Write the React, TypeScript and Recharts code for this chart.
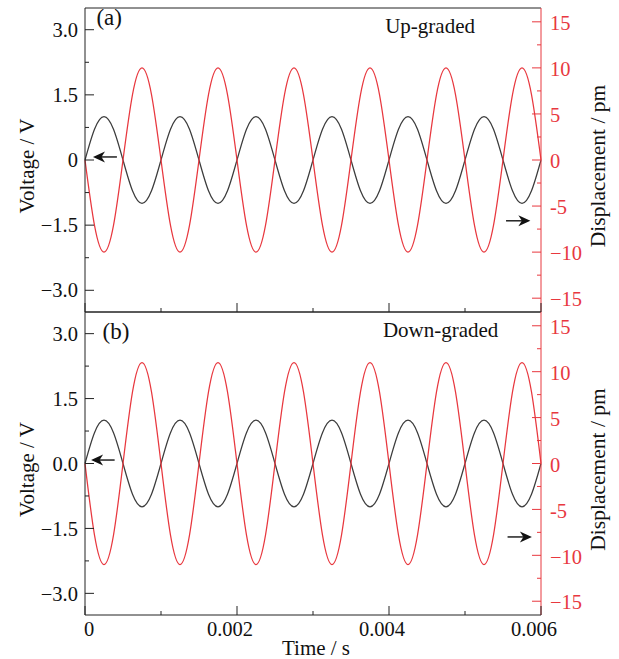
import React from 'react';
import { LineChart, Line, XAxis, YAxis, ReferenceLine, ReferenceDot, Label } from 'recharts';

// time base, 8 samples per 1 ms period
const time = [
  0, 0.000125, 0.00025, 0.000375, 0.0005, 0.000625, 0.00075, 0.000875,
  0.001, 0.001125, 0.00125, 0.001375, 0.0015, 0.001625, 0.00175, 0.001875,
  0.002, 0.002125, 0.00225, 0.002375, 0.0025, 0.002625, 0.00275, 0.002875,
  0.003, 0.003125, 0.00325, 0.003375, 0.0035, 0.003625, 0.00375, 0.003875,
  0.004, 0.004125, 0.00425, 0.004375, 0.0045, 0.004625, 0.00475, 0.004875,
  0.005, 0.005125, 0.00525, 0.005375, 0.0055, 0.005625, 0.00575, 0.005875,
  0.006,
];

const voltage = [
  0, 0.71, 1, 0.71, 0, -0.71, -1, -0.71,
  0, 0.71, 1, 0.71, 0, -0.71, -1, -0.71,
  0, 0.71, 1, 0.71, 0, -0.71, -1, -0.71,
  0, 0.71, 1, 0.71, 0, -0.71, -1, -0.71,
  0, 0.71, 1, 0.71, 0, -0.71, -1, -0.71,
  0, 0.71, 1, 0.71, 0, -0.71, -1, -0.71,
  0,
];

const dispUp = [
  0, -7.1, -10, -7.1, 0, 7.1, 10, 7.1,
  0, -7.1, -10, -7.1, 0, 7.1, 10, 7.1,
  0, -7.1, -10, -7.1, 0, 7.1, 10, 7.1,
  0, -7.1, -10, -7.1, 0, 7.1, 10, 7.1,
  0, -7.1, -10, -7.1, 0, 7.1, 10, 7.1,
  0, -7.1, -10, -7.1, 0, 7.1, 10, 7.1,
  0,
];

const dispDown = [
  0, -7.8, -11, -7.8, 0, 7.8, 11, 7.8,
  0, -7.8, -11, -7.8, 0, 7.8, 11, 7.8,
  0, -7.8, -11, -7.8, 0, 7.8, 11, 7.8,
  0, -7.8, -11, -7.8, 0, 7.8, 11, 7.8,
  0, -7.8, -11, -7.8, 0, 7.8, 11, 7.8,
  0, -7.8, -11, -7.8, 0, 7.8, 11, 7.8,
  0,
];

const timeTicks = [0, 0.001, 0.002, 0.003, 0.004, 0.005, 0.006];
const timeMajor = [0, 0.002, 0.004, 0.006];
const timeLabels = ['0', '0.002', '0.004', '0.006'];

const voltTicks = [-3, -2.25, -1.5, -0.75, 0, 0.75, 1.5, 2.25, 3];
const voltMajor = [-3, -1.5, 0, 1.5, 3];
const voltLabelsA = ['\u22123.0', '\u22121.5', '0', '1.5', '3.0'];
const voltLabelsB = ['\u22123.0', '\u22121.5', '0.0', '1.5', '3.0'];

const dispTicks = [-15, -12.5, -10, -7.5, -5, -2.5, 0, 2.5, 5, 7.5, 10, 12.5, 15];
const dispMajor = [-15, -10, -5, 0, 5, 10, 15];
const dispLabels = ['\u221215', '\u221210', '-5', '0', '5', '10', '15'];

const rows = time.map((t, i) => ({ t, v: voltage[i], up: dispUp[i], down: dispDown[i] }));

const FONT = '"Liberation Serif", "Times New Roman", serif';
const RED = '#e8383f';
const INK = '#222';
const txtStyle = { fontFamily: FONT };

const findLabel = (v: number, major: number[], labels: string[]) => {
  const i = major.findIndex((m) => Math.abs(m - v) < 1e-9);
  return i < 0 ? null : labels[i];
};

const leftTick = (labels: string[]) => (p: any) => {
  const { x, y, payload } = p;
  const lab = findLabel(payload.value, voltMajor, labels);
  return (
    <g>
      <line x1={x} x2={x + (lab ? 9 : 4)} y1={y} y2={y} stroke={INK} />
      {lab && (
        <text x={x - 7} y={y} dy="0.35em" textAnchor="end" fontSize={20.5} style={txtStyle} fill="#111">
          {lab}
        </text>
      )}
    </g>
  );
};

const rightTick = (p: any) => {
  const { x, y, payload } = p;
  const lab = findLabel(payload.value, dispMajor, dispLabels);
  return (
    <g>
      <line x1={x} x2={x - (lab ? 9 : 4)} y1={y} y2={y} stroke={RED} />
      {lab && (
        <text x={x + 9} y={y} dy="0.4em" textAnchor="start" fontSize={20.5} style={txtStyle} fill={RED}>
          {lab}
        </text>
      )}
    </g>
  );
};

const bottomTick = (showLabels: boolean) => (p: any) => {
  const { x, y, payload } = p;
  const lab = findLabel(payload.value, timeMajor, timeLabels);
  return (
    <g>
      <line x1={x} x2={x} y1={y} y2={y - (lab ? 9 : 4)} stroke={INK} />
      {showLabels && lab && (
        <text x={lab === '0' ? x + 4 : x - 7} y={y + 21} textAnchor="middle" fontSize={20.5} style={txtStyle} fill="#111">
          {lab}
        </text>
      )}
    </g>
  );
};

const arrowShape = (p: any) => {
  const { x1, y1, x2, y2 } = p;
  const dir = x2 > x1 ? 1 : -1;
  const hx = x2 - dir * 12;
  return (
    <g>
      <line x1={x1} y1={y1} x2={hx + dir * 4} y2={y2} stroke="#111" strokeWidth={1.4} />
      <polygon points={`${x2},${y2} ${hx},${y2 - 5.5} ${hx + dir * 3.5},${y2} ${hx},${y2 + 5.5}`} fill="#111" />
    </g>
  );
};

const textShape = (txt: string, size: number) => (p: any) => (
  <text x={p.cx} y={p.cy} fontSize={size} style={txtStyle} fill="#111">
    {txt}
  </text>
);

const leftTitle = (props: any) => {
  const vb = props.viewBox;
  const cx = vb.x + 27;
  const cy = vb.y + vb.height / 2 + 6;
  return (
    <text x={cx} y={cy} transform={`rotate(-90 ${cx} ${cy})`} textAnchor="middle" dominantBaseline="central" fontSize={21} style={txtStyle} fill="#111">
      Voltage / V
    </text>
  );
};

const rightTitle = (props: any) => {
  const vb = props.viewBox;
  const cx = vb.x + 57;
  const cy = vb.y + vb.height / 2 + 6;
  return (
    <text x={cx} y={cy} transform={`rotate(-90 ${cx} ${cy})`} textAnchor="middle" dominantBaseline="central" fontSize={21.5} style={txtStyle} fill="#111">
      Displacement / pm
    </text>
  );
};

const timeTitle = (props: any) => {
  const vb = props.viewBox;
  return (
    <text x={vb.x + vb.width / 2 + 3} y={vb.y + 40} textAnchor="middle" fontSize={21} style={txtStyle} fill="#111">
      Time / s
    </text>
  );
};

interface PanelProps {
  dataKey: string;
  voltLabels: string[];
  tag: string;
  tagAt: [number, number];
  title: string;
  titleAt: [number, number];
  leftArrow: [number, number, number];
  rightArrow: [number, number, number];
  showTime: boolean;
  height: number;
  top: number;
  xHeight: number;
}

const Panel = (p: PanelProps) => (
  <LineChart
    width={619}
    height={p.height}
    data={rows}
    margin={{ top: p.top, right: 0, left: 0, bottom: 0 }}
  >
    <XAxis
      dataKey="t"
      type="number"
      domain={[0, 0.006]}
      ticks={timeTicks}
      interval={0}
      tickSize={0}
      tickMargin={0}
      tickLine={false}
      tick={bottomTick(p.showTime)}
      axisLine={{ stroke: INK }}
      height={p.xHeight}
      label={p.showTime ? <Label content={timeTitle} /> : undefined}
    />
    <YAxis
      yAxisId="left"
      orientation="left"
      type="number"
      domain={[-3.5, 3.5]}
      ticks={voltTicks}
      interval={0}
      width={85}
      tickSize={0}
      tickMargin={0}
      tickLine={false}
      tick={leftTick(p.voltLabels)}
      axisLine={{ stroke: INK }}
      label={<Label content={leftTitle} />}
    />
    <YAxis
      yAxisId="right"
      orientation="right"
      type="number"
      domain={[-16.5, 16.5]}
      ticks={dispTicks}
      interval={0}
      width={78}
      tickSize={0}
      tickMargin={0}
      tickLine={false}
      tick={rightTick}
      axisLine={{ stroke: RED }}
      label={<Label content={rightTitle} />}
    />
    <ReferenceLine yAxisId="left" y={3.5} stroke={INK} />
    <Line
      yAxisId="left"
      dataKey="v"
      type="natural"
      stroke="#3c3c3c"
      strokeWidth={1.25}
      dot={false}
      isAnimationActive={false}
    />
    <Line
      yAxisId="right"
      dataKey={p.dataKey}
      type="natural"
      stroke={RED}
      strokeWidth={1.25}
      dot={false}
      isAnimationActive={false}
    />
    <ReferenceLine
      yAxisId="left"
      segment={[{ x: p.leftArrow[0], y: p.leftArrow[2] }, { x: p.leftArrow[1], y: p.leftArrow[2] }]}
      shape={arrowShape}
    />
    <ReferenceLine
      yAxisId="right"
      segment={[{ x: p.rightArrow[0], y: p.rightArrow[2] }, { x: p.rightArrow[1], y: p.rightArrow[2] }]}
      shape={arrowShape}
    />
    <ReferenceDot yAxisId="left" x={p.tagAt[0]} y={p.tagAt[1]} r={0} shape={textShape(p.tag, 23)} />
    <ReferenceDot yAxisId="left" x={p.titleAt[0]} y={p.titleAt[1]} r={0} shape={textShape(p.title, 21)} />
  </LineChart>
);

export default function App() {
  return (
    <div style={{ position: 'absolute', left: 0, top: 0, width: 619, height: 659, background: '#fff' }}>
      <div style={{ position: 'absolute', left: 0, top: 0 }}>
        <Panel
          dataKey="up"
          voltLabels={voltLabelsA}
          tag="(a)"
          tagAt={[0.00015, 3.12]}
          title="Up-graded"
          titleAt={[0.00395, 2.92]}
          leftArrow={[0.00042, 0.000105, 0.07]}
          rightArrow={[0.00554, 0.00586, -6.6]}
          showTime={false}
          height={313}
          top={8}
          xHeight={1}
        />
      </div>
      <div style={{ position: 'absolute', left: 0, top: 302 }}>
        <Panel
          dataKey="down"
          voltLabels={voltLabelsB}
          tag="(b)"
          tagAt={[0.00023, 2.87]}
          title="Down-graded"
          titleAt={[0.00392, 2.92]}
          leftArrow={[0.00039, 0.00008, 0.08]}
          rightArrow={[0.00556, 0.00588, -8]}
          showTime={true}
          height={357}
          top={10}
          xHeight={44}
        />
      </div>
    </div>
  );
}
